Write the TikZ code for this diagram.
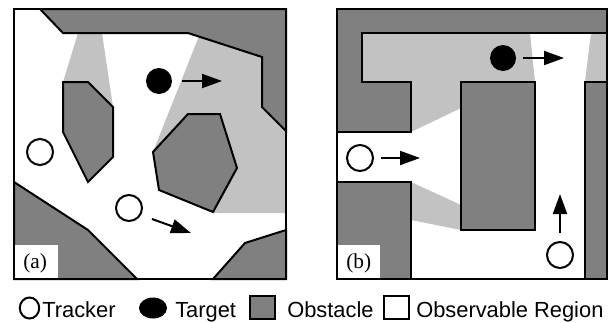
\documentclass[tikz,border=0pt]{standalone}
\usepackage{fontspec}
\setmainfont{Liberation Serif}
\setsansfont{Liberation Sans}
\usetikzlibrary{arrows.meta}
\definecolor{obst}{gray}{0.5}
\definecolor{visgray}{gray}{0.76}
\begin{document}
\begin{tikzpicture}[x=0.75pt,y=-0.75pt,
  obstacle/.style={fill=obst,draw=black,line width=1.5pt,line join=miter},
  panelframe/.style={draw=black,line width=2pt},
  tracker/.style={circle,draw=black,line width=1.5pt,fill=white,minimum size=19.5pt,inner sep=0pt},
  target/.style={circle,fill=black,minimum size=19.5pt,inner sep=0pt},
  motion/.style={-{Triangle[length=15pt,width=10.5pt]},line width=1.5pt},
  plabel/.style={font=\fontsize{16}{18}\selectfont,inner sep=0pt,anchor=base west},
  legtext/.style={font=\sffamily\fontsize{16.4}{19}\selectfont,inner sep=0pt,anchor=base west}]
\useasboundingbox (0,0) rectangle (610,322);
\fill[white] (0,0) rectangle (610,322);
% ---------- panel (a) ----------
\fill[visgray] (78,33) -- (102,33) -- (113,107) -- (63,82) -- cycle;
\fill[visgray] (199,36) -- (262,57) -- (262,107) -- (286,131) -- (286,213) -- (213,213) -- (153,152) -- cycle;
\draw[obstacle] (40,9) -- (63,33) -- (188,33) -- (262,57) -- (262,107) -- (286,131) -- (286,9) -- cycle;
\draw[obstacle] (63,82) -- (88,82) -- (113,107) -- (113,157) -- (88,182) -- (63,132) -- cycle;
\draw[obstacle] (153,152) -- (188,114) -- (220,114) -- (237,168) -- (213,212) -- (159,190) -- cycle;
\draw[obstacle] (14,182) -- (88,230) -- (137,279) -- (14,279) -- cycle;
\draw[obstacle] (213,279) -- (245,243) -- (286,230) -- (286,279) -- cycle;
\fill[white] (14,245) rectangle (58,279);
\node[plabel] (la) at (23,268.5) {(a)};
\node[target] (tga) at (159,81) {};
\coordinate (tga1) at (182,81);
\coordinate (tga2) at (222,81);
\draw[motion] (tga1) -- (tga2);
\node[tracker] (tra1) at (40,152) {};
\node[tracker] (tra2) at (129,208) {};
\coordinate (tra2a) at (152,219);
\coordinate (tra2b) at (191,233);
\draw[motion] (tra2a) -- (tra2b);
\draw[panelframe] (14,9) rectangle (286,279);
% ---------- panel (b) ----------
\fill[visgray] (362,33) -- (530,33) -- (535,82) -- (461,82) -- (461,108) -- (411,132) -- (411,82) -- (362,82) -- cycle;
\fill[visgray] (591,33) -- (607,33) -- (607,82) -- (585,82) -- cycle;
\fill[visgray] (411,182) -- (461,205) -- (461,230) -- (411,220) -- cycle;
\draw[obstacle] (337,9) -- (607,9) -- (607,33) -- (362,33) -- (362,82) -- (411,82) -- (411,132) -- (337,132) -- cycle;
\draw[obstacle] (585,82) rectangle (607,279);
\draw[obstacle] (337,182) rectangle (411,279);
\draw[obstacle] (461,82) rectangle (535,230);
\fill[white] (337,245) rectangle (380,279);
\node[plabel] (lb) at (346,268.5) {(b)};
\node[target] (tgb) at (503,58) {};
\coordinate (tgb1) at (523,58);
\coordinate (tgb2) at (564,58);
\draw[motion] (tgb1) -- (tgb2);
\node[tracker] (trb1) at (360,158) {};
\coordinate (trb1a) at (381,158);
\coordinate (trb1b) at (420,158);
\draw[motion] (trb1a) -- (trb1b);
\node[tracker] (trb2) at (560,255) {};
\coordinate (trb2a) at (560,233);
\coordinate (trb2b) at (560,194);
\draw[motion] (trb2a) -- (trb2b);
\draw[panelframe] (337,9) rectangle (607,279);
% ---------- legend ----------
\draw[line width=1.5pt] (29.5,308) ellipse [x radius=9.7, y radius=10.5];
\node[legtext] (lt1) at (42,317) {Tracker};
\fill[black] (153,308) ellipse [x radius=14, y radius=10.5];
\node[legtext] (lt2) at (175,317) {Target};
\draw[fill=obst,line width=1.5pt] (250,296) rectangle (275,319);
\node[legtext] (lt3) at (287,317) {Obstacle};
\draw[fill=white,line width=1.5pt] (384,296) rectangle (409,319);
\node[legtext] (lt4) at (416,317) {Observable Region};
\end{tikzpicture}
\end{document}
